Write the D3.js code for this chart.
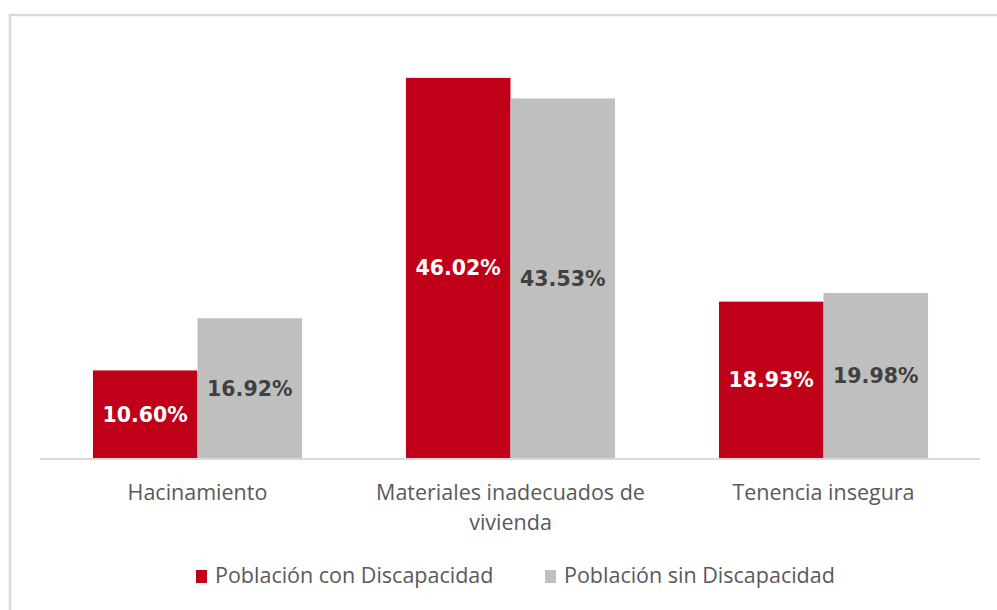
<!DOCTYPE html>
<html>
<head>
<meta charset="utf-8">
<script src="https://cdn.jsdelivr.net/npm/d3@7"></script>
<style>
  body { margin:0; background:#fff; }
  svg { display:block; }
</style>
</head>
<body>
<div id="chart"></div>
<script>
// categorias y series
const categorias = ["Hacinamiento", "Materiales inadecuados de vivienda", "Tenencia insegura"];
const etiquetasEje = [["Hacinamiento"], ["Materiales inadecuados de", "vivienda"], ["Tenencia insegura"]];
const series = ["Población con Discapacidad", "Población sin Discapacidad"];
const conDiscapacidad = [10.60, 46.02, 18.93];
const sinDiscapacidad = [16.92, 43.53, 19.98];

const width = 997, height = 610;
const colores = ["#c00018", "#bfbfbf"];
const colorTexto = ["#ffffff", "#404040"];

const svg = d3.select("#chart").append("svg")
    .attr("width", width)
    .attr("height", height);

// marco del grafico
svg.append("rect")
    .attr("x", 10).attr("y", 15)
    .attr("width", 1000).attr("height", 700)
    .attr("fill", "none")
    .attr("stroke", "#d9d9d9")
    .attr("stroke-width", 2.5);

const x0 = d3.scaleBand().domain(categorias).range([41, 980]).paddingInner(0.332).paddingOuter(0.166);
const x1 = d3.scaleBand().domain(series).range([0, x0.bandwidth()]);
const y = d3.scaleLinear().domain([0, 50]).range([458, 45]);

const data = categorias.map(function(c, i) {
    return {cat: c, valores: [conDiscapacidad[i], sinDiscapacidad[i]]};
});

const grupos = svg.selectAll(".grupo")
    .data(data)
    .enter().append("g")
    .attr("class", "grupo")
    .attr("transform", function(d) { return "translate(" + x0(d.cat) + ",0)"; });

grupos.selectAll("rect")
    .data(function(d) { return d.valores.map(function(v, j) { return {serie: series[j], v: v, j: j}; }); })
    .enter().append("rect")
    .attr("x", function(d) { return x1(d.serie); })
    .attr("y", function(d) { return y(d.v); })
    .attr("width", x1.bandwidth())
    .attr("height", function(d) { return y(0) - y(d.v); })
    .attr("fill", function(d) { return colores[d.j]; });

grupos.selectAll("text.valor")
    .data(function(d) { return d.valores.map(function(v, j) { return {serie: series[j], v: v, j: j}; }); })
    .enter().append("text")
    .attr("class", "valor")
    .attr("x", function(d) { return x1(d.serie) + x1.bandwidth() / 2; })
    .attr("y", function(d) { return (y(d.v) + y(0)) / 2; })
    .attr("dy", "0.36em")
    .attr("text-anchor", "middle")
    .attr("font-family", "DejaVu Sans")
    .attr("font-weight", "bold")
    .attr("font-size", "20.5px")
    .attr("fill", function(d) { return colorTexto[d.j]; })
    .text(function(d) { return d.v.toFixed(2) + "%"; });

// eje x
svg.append("line")
    .attr("x1", 40).attr("x2", 980)
    .attr("y1", y(0) + 1).attr("y2", y(0) + 1)
    .attr("stroke", "#d9d9d9")
    .attr("stroke-width", 2);

const etiquetas = svg.selectAll(".cat")
    .data(categorias)
    .enter().append("text")
    .attr("class", "cat")
    .attr("x", function(d) { return x0(d) + x0.bandwidth() / 2; })
    .attr("y", 500)
    .attr("text-anchor", "middle")
    .attr("font-family", "Open Sans")
    .attr("font-size", "21.5px")
    .attr("fill", "#595959");

etiquetas.selectAll("tspan")
    .data(function(d, i) { return etiquetasEje[i]; })
    .enter().append("tspan")
    .attr("x", function() { const p = this.parentNode; return p.getAttribute("x"); })
    .attr("dy", function(d, i) { return i === 0 ? 0 : 30; })
    .text(function(d) { return d; });

// leyenda
const leyendaX = [196, 545];
const leyenda = svg.selectAll(".leyenda")
    .data(series)
    .enter().append("g")
    .attr("class", "leyenda")
    .attr("transform", function(d, i) { return "translate(" + leyendaX[i] + ",570)"; });

leyenda.append("rect")
    .attr("width", 11).attr("height", 13)
    .attr("fill", function(d, i) { return colores[i]; });

leyenda.append("text")
    .attr("x", 19)
    .attr("y", 13)
    .attr("font-family", "Open Sans")
    .attr("font-size", "21.5px")
    .attr("fill", "#595959")
    .text(function(d) { return d; });
</script>
</body>
</html>
